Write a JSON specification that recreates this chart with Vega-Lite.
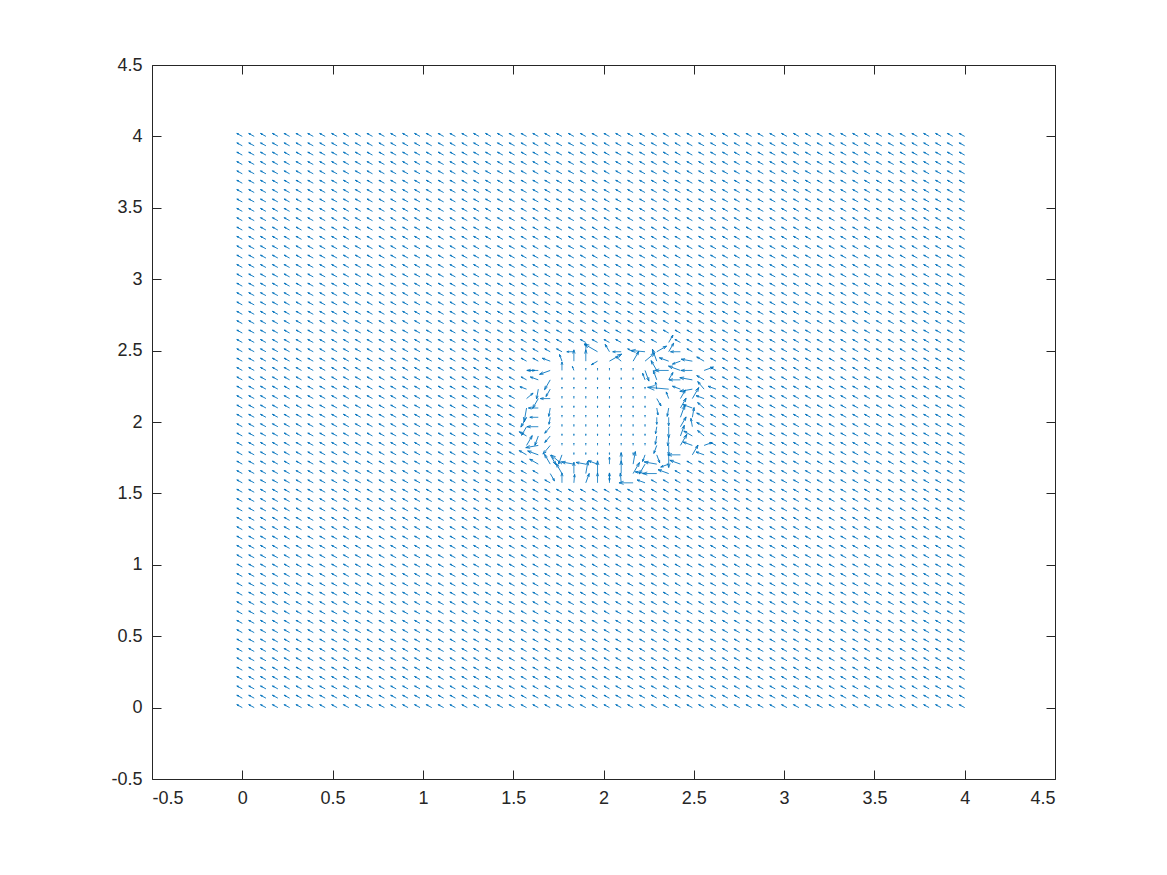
{
"$schema": "https://vega.github.io/schema/vega-lite/v6.json",
"width": 903, "height": 714,
"autosize": {"type": "none"},
"padding": {"left": 152, "top": 65, "right": 112, "bottom": 96},
"background": "white",
"config": {"view": {"stroke": null},
 "axis": {"domainColor": "#262626", "domainWidth": 1, "tickColor": "#262626", "tickWidth": 1, "tickSize": -9, "labelColor": "#262626", "labelFont": "Liberation Sans", "labelFontSize": 18, "labelPadding": 19, "grid": false, "title": null}},
"data": {"values": "x,y,a,l\n0,0\n0.066,0\n0.131,0\n0.197,0\n0.262,0\n0.328,0\n0.393,0\n0.459,0\n0.525,0\n0.59,0\n0.656,0\n0.721,0\n0.787,0\n0.852,0\n0.918,0\n0.984,0\n1.049,0\n1.115,0\n1.18,0\n1.246,0\n1.311,0\n1.377,0\n1.443,0\n1.508,0\n1.574,0\n1.639,0\n1.705,0\n1.77,0\n1.836,0\n1.902,0\n1.967,0\n2.033,0\n2.098,0\n2.164,0\n2.23,0\n2.295,0\n2.361,0\n2.426,0\n2.492,0\n2.557,0\n2.623,0\n2.689,0\n2.754,0\n2.82,0\n2.885,0\n2.951,0\n3.016,0\n3.082,0\n3.148,0\n3.213,0\n3.279,0\n3.344,0\n3.41,0\n3.475,0\n3.541,0\n3.607,0\n3.672,0\n3.738,0\n3.803,0\n3.869,0\n3.934,0\n4,0\n0,0.066\n0.066,0.066\n0.131,0.066\n0.197,0.066\n0.262,0.066\n0.328,0.066\n0.393,0.066\n0.459,0.066\n0.525,0.066\n0.59,0.066\n0.656,0.066\n0.721,0.066\n0.787,0.066\n0.852,0.066\n0.918,0.066\n0.984,0.066\n1.049,0.066\n1.115,0.066\n1.18,0.066\n1.246,0.066\n1.311,0.066\n1.377,0.066\n1.443,0.066\n1.508,0.066\n1.574,0.066\n1.639,0.066\n1.705,0.066\n1.77,0.066\n1.836,0.066\n1.902,0.066\n1.967,0.066\n2.033,0.066\n2.098,0.066\n2.164,0.066\n2.23,0.066\n2.295,0.066\n2.361,0.066\n2.426,0.066\n2.492,0.066\n2.557,0.066\n2.623,0.066\n2.689,0.066\n2.754,0.066\n2.82,0.066\n2.885,0.066\n2.951,0.066\n3.016,0.066\n3.082,0.066\n3.148,0.066\n3.213,0.066\n3.279,0.066\n3.344,0.066\n3.41,0.066\n3.475,0.066\n3.541,0.066\n3.607,0.066\n3.672,0.066\n3.738,0.066\n3.803,0.066\n3.869,0.066\n3.934,0.066\n4,0.066\n0,0.131\n0.066,0.131\n0.131,0.131\n0.197,0.131\n0.262,0.131\n0.328,0.131\n0.393,0.131\n0.459,0.131\n0.525,0.131\n0.59,0.131\n0.656,0.131\n0.721,0.131\n0.787,0.131\n0.852,0.131\n0.918,0.131\n0.984,0.131\n1.049,0.131\n1.115,0.131\n1.18,0.131\n1.246,0.131\n1.311,0.131\n1.377,0.131\n1.443,0.131\n1.508,0.131\n1.574,0.131\n1.639,0.131\n1.705,0.131\n1.77,0.131\n1.836,0.131\n1.902,0.131\n1.967,0.131\n2.033,0.131\n2.098,0.131\n2.164,0.131\n2.23,0.131\n2.295,0.131\n2.361,0.131\n2.426,0.131\n2.492,0.131\n2.557,0.131\n2.623,0.131\n2.689,0.131\n2.754,0.131\n2.82,0.131\n2.885,0.131\n2.951,0.131\n3.016,0.131\n3.082,0.131\n3.148,0.131\n3.213,0.131\n3.279,0.131\n3.344,0.131\n3.41,0.131\n3.475,0.131\n3.541,0.131\n3.607,0.131\n3.672,0.131\n3.738,0.131\n3.803,0.131\n3.869,0.131\n3.934,0.131\n4,0.131\n0,0.197\n0.066,0.197\n0.131,0.197\n0.197,0.197\n0.262,0.197\n0.328,0.197\n0.393,0.197\n0.459,0.197\n0.525,0.197\n0.59,0.197\n0.656,0.197\n0.721,0.197\n0.787,0.197\n0.852,0.197\n0.918,0.197\n0.984,0.197\n1.049,0.197\n1.115,0.197\n1.18,0.197\n1.246,0.197\n1.311,0.197\n1.377,0.197\n1.443,0.197\n1.508,0.197\n1.574,0.197\n1.639,0.197\n1.705,0.197\n1.77,0.197\n1.836,0.197\n1.902,0.197\n1.967,0.197\n2.033,0.197\n2.098,0.197\n2.164,0.197\n2.23,0.197\n2.295,0.197\n2.361,0.197\n2.426,0.197\n2.492,0.197\n2.557,0.197\n2.623,0.197\n2.689,0.197\n2.754,0.197\n2.82,0.197\n2.885,0.197\n2.951,0.197\n3.016,0.197\n3.082,0.197\n3.148,0.197\n3.213,0.197\n3.279,0.197\n3.344,0.197\n3.41,0.197\n3.475,0.197\n3.541,0.197\n3.607,0.197\n3.672,0.197\n3.738,0.197\n3.803,0.197\n3.869,0.197\n3.934,0.197\n4,0.197\n0,0.262\n0.066,0.262\n0.131,0.262\n0.197,0.262\n0.262,0.262\n0.328,0.262\n0.393,0.262\n0.459,0.262\n0.525,0.262\n0.59,0.262\n0.656,0.262\n0.721,0.262\n0.787,0.262\n0.852,0.262\n0.918,0.262\n0.984,0.262\n1.049,0.262\n1.115,0.262\n1.18,0.262\n1.246,0.262\n1.311,0.262\n1.377,0.262\n1.443,0.262\n1.508,0.262\n1.574,0.262\n1.639,0.262\n1.705,0.262\n1.77,0.262\n1.836,0.262\n1.902,0.262\n1.967,0.262\n2.033,0.262\n2.098,0.262\n2.164,0.262\n2.23,0.262\n2.295,0.262\n2.361,0.262\n2.426,0.262\n2.492,0.262\n2.557,0.262\n2.623,0.262\n2.689,0.262\n2.754,0.262\n2.82,0.262\n2.885,0.262\n2.951,0.262\n3.016,0.262\n3.082,0.262\n3.148,0.262\n3.213,0.262\n3.279,0.262\n3.344,0.262\n3.41,0.262\n3.475,0.262\n3.541,0.262\n3.607,0.262\n3.672,0.262\n3.738,0.262\n3.803,0.262\n3.869,0.262\n3.934,0.262\n4,0.262\n0,0.328\n0.066,0.328\n0.131,0.328\n0.197,0.328\n0.262,0.328\n0.328,0.328\n0.393,0.328\n0.459,0.328\n0.525,0.328\n0.59,0.328\n0.656,0.328\n0.721,0.328\n0.787,0.328\n0.852,0.328\n0.918,0.328\n0.984,0.328\n1.049,0.328\n1.115,0.328\n1.18,0.328\n1.246,0.328\n1.311,0.328\n1.377,0.328\n1.443,0.328\n1.508,0.328\n1.574,0.328\n1.639,0.328\n1.705,0.328\n1.77,0.328\n1.836,0.328\n1.902,0.328\n1.967,0.328\n2.033,0.328\n2.098,0.328\n2.164,0.328\n2.23,0.328\n2.295,0.328\n2.361,0.328\n2.426,0.328\n2.492,0.328\n2.557,0.328\n2.623,0.328\n2.689,0.328\n2.754,0.328\n2.82,0.328\n2.885,0.328\n2.951,0.328\n3.016,0.328\n3.082,0.328\n3.148,0.328\n3.213,0.328\n3.279,0.328\n3.344,0.328\n3.41,0.328\n3.475,0.328\n3.541,0.328\n3.607,0.328\n3.672,0.328\n3.738,0.328\n3.803,0.328\n3.869,0.328\n3.934,0.328\n4,0.328\n0,0.393\n0.066,0.393\n0.131,0.393\n0.197,0.393\n0.262,0.393\n0.328,0.393\n0.393,0.393\n0.459,0.393\n0.525,0.393\n0.59,0.393\n0.656,0.393\n0.721,0.393\n0.787,0.393\n0.852,0.393\n0.918,0.393\n0.984,0.393\n1.049,0.393\n1.115,0.393\n1.18,0.393\n1.246,0.393\n1.311,0.393\n1.377,0.393\n1.443,0.393\n1.508,0.393\n1.574,0.393\n1.639,0.393\n1.705,0.393\n1.77,0.393\n1.836,0.393\n1.902,0.393\n1.967,0.393\n2.033,0.393\n2.098,0.393\n2.164,0.393\n2.23,0.393\n2.295,0.393\n2.361,0.393\n2.426,0.393\n2.492,0.393\n2.557,0.393\n2.623,0.393\n2.689,0.393\n2.754,0.393\n2.82,0.393\n2.885,0.393\n2.951,0.393\n3.016,0.393\n3.082,0.393\n3.148,0.393\n3.213,0.393\n3.279,0.393\n3.344,0.393\n3.41,0.393\n3.475,0.393\n3.541,0.393\n3.607,0.393\n3.672,0.393\n3.738,0.393\n3.803,0.393\n3.869,0.393\n3.934,0.393\n4,0.393\n0,0.459\n0.066,0.459\n0.131,0.459\n0.197,0.459\n0.262,0.459\n0.328,0.459\n0.393,0.459\n0.459,0.459\n0.525,0.459\n0.59,0.459\n0.656,0.459\n0.721,0.459\n0.787,0.459\n0.852,0.459\n0.918,0.459\n0.984,0.459\n1.049,0.459\n1.115,0.459\n1.18,0.459\n1.246,0.459\n1.311,0.459\n1.377,0.459\n1.443,0.459\n1.508,0.459\n1.574,0.459\n1.639,0.459\n1.705,0.459\n1.77,0.459\n1.836,0.459\n1.902,0.459\n1.967,0.459\n2.033,0.459\n2.098,0.459\n2.164,0.459\n2.23,0.459\n2.295,0.459\n2.361,0.459\n2.426,0.459\n2.492,0.459\n2.557,0.459\n2.623,0.459\n2.689,0.459\n2.754,0.459\n2.82,0.459\n2.885,0.459\n2.951,0.459\n3.016,0.459\n3.082,0.459\n3.148,0.459\n3.213,0.459\n3.279,0.459\n3.344,0.459\n3.41,0.459\n3.475,0.459\n3.541,0.459\n3.607,0.459\n3.672,0.459\n3.738,0.459\n3.803,0.459\n3.869,0.459\n3.934,0.459\n4,0.459\n0,0.525\n0.066,0.525\n0.131,0.525\n0.197,0.525\n0.262,0.525\n0.328,0.525\n0.393,0.525\n0.459,0.525\n0.525,0.525\n0.59,0.525\n0.656,0.525\n0.721,0.525\n0.787,0.525\n0.852,0.525\n0.918,0.525\n0.984,0.525\n1.049,0.525\n1.115,0.525\n1.18,0.525\n1.246,0.525\n1.311,0.525\n1.377,0.525\n1.443,0.525\n1.508,0.525\n1.574,0.525\n1.639,0.525\n1.705,0.525\n1.77,0.525\n1.836,0.525\n1.902,0.525\n1.967,0.525\n2.033,0.525\n2.098,0.525\n2.164,0.525\n2.23,0.525\n2.295,0.525\n2.361,0.525\n2.426,0.525\n2.492,0.525\n2.557,0.525\n2.623,0.525\n2.689,0.525\n2.754,0.525\n2.82,0.525\n2.885,0.525\n2.951,0.525\n3.016,0.525\n3.082,0.525\n3.148,0.525\n3.213,0.525\n3.279,0.525\n3.344,0.525\n3.41,0.525\n3.475,0.525\n3.541,0.525\n3.607,0.525\n3.672,0.525\n3.738,0.525\n3.803,0.525\n3.869,0.525\n3.934,0.525\n4,0.525\n0,0.59\n0.066,0.59\n0.131,0.59\n0.197,0.59\n0.262,0.59\n0.328,0.59\n0.393,0.59\n0.459,0.59\n0.525,0.59\n0.59,0.59\n0.656,0.59\n0.721,0.59\n0.787,0.59\n0.852,0.59\n0.918,0.59\n0.984,0.59\n1.049,0.59\n1.115,0.59\n1.18,0.59\n1.246,0.59\n1.311,0.59\n1.377,0.59\n1.443,0.59\n1.508,0.59\n1.574,0.59\n1.639,0.59\n1.705,0.59\n1.77,0.59\n1.836,0.59\n1.902,0.59\n1.967,0.59\n2.033,0.59\n2.098,0.59\n2.164,0.59\n2.23,0.59\n2.295,0.59\n2.361,0.59\n2.426,0.59\n2.492,0.59\n2.557,0.59\n2.623,0.59\n2.689,0.59\n2.754,0.59\n2.82,0.59\n2.885,0.59\n2.951,0.59\n3.016,0.59\n3.082,0.59\n3.148,0.59\n3.213,0.59\n3.279,0.59\n3.344,0.59\n3.41,0.59\n3.475,0.59\n3.541,0.59\n3.607,0.59\n3.672,0.59\n3.738,0.59\n3.803,0.59\n3.869,0.59\n3.934,0.59\n4,0.59\n0,0.656\n0.066,0.656\n0.131,0.656\n0.197,0.656\n0.262,0.656\n0.328,0.656\n0.393,0.656\n0.459,0.656\n0.525,0.656\n0.59,0.656\n0.656,0.656\n0.721,0.656\n0.787,0.656\n0.852,0.656\n0.918,0.656\n0.984,0.656\n1.049,0.656\n1.115,0.656\n1.18,0.656\n1.246,0.656\n1.311,0.656\n1.377,0.656\n1.443,0.656\n1.508,0.656\n1.574,0.656\n1.639,0.656\n1.705,0.656\n1.77,0.656\n1.836,0.656\n1.902,0.656\n1.967,0.656\n2.033,0.656\n2.098,0.656\n2.164,0.656\n2.23,0.656\n2.295,0.656\n2.361,0.656\n2.426,0.656\n2.492,0.656\n2.557,0.656\n2.623,0.656\n2.689,0.656\n2.754,0.656\n2.82,0.656\n2.885,0.656\n2.951,0.656\n3.016,0.656\n3.082,0.656\n3.148,0.656\n3.213,0.656\n3.279,0.656\n3.344,0.656\n3.41,0.656\n3.475,0.656\n3.541,0.656\n3.607,0.656\n3.672,0.656\n3.738,0.656\n3.803,0.656\n3.869,0.656\n3.934,0.656\n4,0.656\n0,0.721\n0.066,0.721\n0.131,0.721\n0.197,0.721\n0.262,0.721\n0.328,0.721\n0.393,0.721\n0.459,0.721\n0.525,0.721\n0.59,0.721\n0.656,0.721\n0.721,0.721\n0.787,0.721\n0.852,0.721\n0.918,0.721\n0.984,0.721\n1.049,0.721\n1.115,0.721\n1.18,0.721\n1.246,0.721\n1.311,0.721\n1.377,0.721\n1.443,0.721\n1.508,0.721\n1.574,0.721\n1.639,0.721\n1.705,0.721\n1.77,0.721\n1.836,0.721\n1.902,0.721\n1.967,0.721\n2.033,0.721\n2.098,0.721\n2.164,0.721\n2.23,0.721\n2.295,0.721\n2.361,0.721\n2.426,0.721\n2.492,0.721\n2.557,0.721\n2.623,0.721\n2.689,0.721\n2.754,0.721\n2.82,0.721\n2.885,0.721\n2.951,0.721\n3.016,0.721\n3.082,0.721\n3.148,0.721\n3.213,0.721\n3.279,0.721\n3.344,0.721\n3.41,0.721\n3.475,0.721\n3.541,0.721\n3.607,0.721\n3.672,0.721\n3.738,0.721\n3.803,0.721\n3.869,0.721\n3.934,0.721\n4,0.721\n0,0.787\n0.066,0.787\n0.131,0.787\n0.197,0.787\n0.262,0.787\n0.328,0.787\n0.393,0.787\n0.459,0.787\n0.525,0.787\n0.59,0.787\n0.656,0.787\n0.721,0.787\n0.787,0.787\n0.852,0.787\n0.918,0.787\n0.984,0.787\n1.049,0.787\n1.115,0.787\n1.18,0.787\n1.246,0.787\n1.311,0.787\n1.377,0.787\n1.443,0.787\n1.508,0.787\n1.574,0.787\n1.639,0.787\n1.705,0.787\n1.77,0.787\n1.836,0.787\n1.902,0.787\n1.967,0.787\n2.033,0.787\n2.098,0.787\n2.164,0.787\n2.23,0.787\n2.295,0.787\n2.361,0.787\n2.426,0.787\n2.492,0.787\n2.557,0.787\n2.623,0.787\n2.689,0.787\n2.754,0.787\n2.82,0.787\n2.885,0.787\n2.951,0.787\n3.016,0.787\n3.082,0.787\n3.148,0.787\n3.213,0.787\n3.279,0.787\n3.344,0.787\n3.41,0.787\n3.475,0.787\n3.541,0.787\n3.607,0.787\n3.672,0.787\n3.738,0.787\n3.803,0.787\n3.869,0.787\n3.934,0.787\n4,0.787\n0,0.852\n0.066,0.852\n0.131,0.852\n0.197,0.852\n0.262,0.852\n0.328,0.852\n0.393,0.852\n0.459,0.852\n0.525,0.852\n0.59,0.852\n0.656,0.852\n0.721,0.852\n0.787,0.852\n0.852,0.852\n0.918,0.852\n0.984,0.852\n1.049,0.852\n1.115,0.852\n1.18,0.852\n1.246,0.852\n1.311,0.852\n1.377,0.852\n1.443,0.852\n1.508,0.852\n1.574,0.852\n1.639,0.852\n1.705,0.852\n1.77,0.852\n1.836,0.852\n1.902,0.852\n1.967,0.852\n2.033,0.852\n2.098,0.852\n2.164,0.852\n2.23,0.852\n2.295,0.852\n2.361,0.852\n2.426,0.852\n2.492,0.852\n2.557,0.852\n2.623,0.852\n2.689,0.852\n2.754,0.852\n2.82,0.852\n2.885,0.852\n2.951,0.852\n3.016,0.852\n3.082,0.852\n3.148,0.852\n3.213,0.852\n3.279,0.852\n3.344,0.852\n3.41,0.852\n3.475,0.852\n3.541,0.852\n3.607,0.852\n3.672,0.852\n3.738,0.852\n3.803,0.852\n3.869,0.852\n3.934,0.852\n4,0.852\n0,0.918\n0.066,0.918\n0.131,0.918\n0.197,0.918\n0.262,0.918\n0.328,0.918\n0.393,0.918\n0.459,0.918\n0.525,0.918\n0.59,0.918\n0.656,0.918\n0.721,0.918\n0.787,0.918\n0.852,0.918\n0.918,0.918\n0.984,0.918\n1.049,0.918\n1.115,0.918\n1.18,0.918\n1.246,0.918\n1.311,0.918\n1.377,0.918\n1.443,0.918\n1.508,0.918\n1.574,0.918\n1.639,0.918\n1.705,0.918\n1.77,0.918\n1.836,0.918\n1.902,0.918\n1.967,0.918\n2.033,0.918\n2.098,0.918\n2.164,0.918\n2.23,0.918\n2.295,0.918\n2.361,0.918\n2.426,0.918\n2.492,0.918\n2.557,0.918\n2.623,0.918\n2.689,0.918\n2.754,0.918\n2.82,0.918\n2.885,0.918\n2.951,0.918\n3.016,0.918\n3.082,0.918\n3.148,0.918\n3.213,0.918\n3.279,0.918\n3.344,0.918\n3.41,0.918\n3.475,0.918\n3.541,0.918\n3.607,0.918\n3.672,0.918\n3.738,0.918\n3.803,0.918\n3.869,0.918\n3.934,0.918\n4,0.918\n0,0.984\n0.066,0.984\n0.131,0.984\n0.197,0.984\n0.262,0.984\n0.328,0.984\n0.393,0.984\n0.459,0.984\n0.525,0.984\n0.59,0.984\n0.656,0.984\n0.721,0.984\n0.787,0.984\n0.852,0.984\n0.918,0.984\n0.984,0.984\n1.049,0.984\n1.115,0.984\n1.18,0.984\n1.246,0.984\n1.311,0.984\n1.377,0.984\n1.443,0.984\n1.508,0.984\n1.574,0.984\n1.639,0.984\n1.705,0.984\n1.77,0.984\n1.836,0.984\n1.902,0.984\n1.967,0.984\n2.033,0.984\n2.098,0.984\n2.164,0.984\n2.23,0.984\n2.295,0.984\n2.361,0.984\n2.426,0.984\n2.492,0.984\n2.557,0.984\n2.623,0.984\n2.689,0.984\n2.754,0.984\n2.82,0.984\n2.885,0.984\n2.951,0.984\n3.016,0.984\n3.082,0.984\n3.148,0.984\n3.213,0.984\n3.279,0.984\n3.344,0.984\n3.41,0.984\n3.475,0.984\n3.541,0.984\n3.607,0.984\n3.672,0.984\n3.738,0.984\n3.803,0.984\n3.869,0.984\n3.934,0.984\n4,0.984\n0,1.049\n0.066,1.049\n0.131,1.049\n0.197,1.049\n0.262,1.049\n0.328,1.049\n0.393,1.049\n0.459,1.049\n0.525,1.049\n0.59,1.049\n0.656,1.049\n0.721,1.049\n0.787,1.049\n0.852,1.049\n0.918,1.049\n0.984,1.049\n1.049,1.049\n1.115,1.049\n1.18,1.049\n1.246,1.049\n1.311,1.049\n1.377,1.049\n1.443,1.049\n1.508,1.049\n1.574,1.049\n1.639,1.049\n1.705,1.049\n1.77,1.049\n1.836,1.049\n1.902,1.049\n1.967,1.049\n2.033,1.049\n2.098,1.049\n2.164,1.049\n2.23,1.049\n2.295,1.049\n2.361,1.049\n2.426,1.049\n2.492,1.049\n2.557,1.049\n2.623,1.049\n2.689,1.049\n2.754,1.049\n2.82,1.049\n2.885,1.049\n2.951,1.049\n3.016,1.049\n3.082,1.049\n3.148,1.049\n3.213,1.049\n3.279,1.049\n3.344,1.049\n3.41,1.049\n3.475,1.049\n3.541,1.049\n3.607,1.049\n3.672,1.049\n3.738,1.049\n3.803,1.049\n3.869,1.049\n3.934,1.049\n4,1.049\n0,1.115\n0.066,1.115\n0.131,1.115\n0.197,1.115\n0.262,1.115\n0.328,1.115\n0.393,1.115\n0.459,1.115\n0.525,1.115\n0.59,1.115\n0.656,1.115\n0.721,1.115\n0.787,1.115\n0.852,1.115\n0.918,1.115\n0.984,1.115\n1.049,1.115\n1.115,1.115\n1.18,1.115\n1.246,1.115\n1.311,1.115\n1.377,1.115\n1.443,1.115\n1.508,1.115\n1.574,1.115\n1.639,1.115\n1.705,1.115\n1.77,1.115\n1.836,1.115\n1.902,1.115\n1.967,1.115\n2.033,1.115\n2.098,1.115\n2.164,1.115\n2.23,1.115\n2.295,1.115\n2.361,1.115\n2.426,1.115\n2.492,1.115\n2.557,1.115\n2.623,1.115\n2.689,1.115\n2.754,1.115\n2.82,1.115\n2.885,1.115\n2.951,1.115\n3.016,1.115\n3.082,1.115\n3.148,1.115\n3.213,1.115\n3.279,1.115\n3.344,1.115\n3.41,1.115\n3.475,1.115\n3.541,1.115\n3.607,1.115\n3.672,1.115\n3.738,1.115\n3.803,1.115\n3.869,1.115\n3.934,1.115\n4,1.115\n0,1.18\n0.066,1.18\n0.131,1.18\n0.197,1.18\n0.262,1.18\n0.328,1.18\n0.393,1.18\n0.459,1.18\n0.525,1.18\n0.59,1.18\n0.656,1.18\n0.721,1.18\n0.787,1.18\n0.852,1.18\n0.918,1.18\n0.984,1.18\n1.049,1.18\n1.115,1.18\n1.18,1.18\n1.246,1.18\n1.311,1.18\n1.377,1.18\n1.443,1.18\n1.508,1.18\n1.574,1.18\n1.639,1.18\n1.705,1.18\n1.77,1.18\n1.836,1.18\n1.902,1.18\n1.967,1.18\n2.033,1.18\n2.098,1.18\n2.164,1.18\n2.23,1.18\n2.295,1.18\n2.361,1.18\n2.426,1.18\n2.492,1.18\n2.557,1.18\n2.623,1.18\n2.689,1.18\n2.754,1.18\n2.82,1.18\n2.885,1.18\n2.951,1.18\n3.016,1.18\n3.082,1.18\n3.148,1.18\n3.213,1.18\n3.279,1.18\n3.344,1.18\n3.41,1.18\n3.475,1.18\n3.541,1.18\n3.607,1.18\n3.672,1.18\n3.738,1.18\n3.803,1.18\n3.869,1.18\n3.934,1.18\n4,1.18\n0,1.246\n0.066,1.246\n0.131,1.246\n0.197,1.246\n0.262,1.246\n0.328,1.246\n0.393,1.246\n0.459,1.246\n0.525,1.246\n0.59,1.246\n0.656,1.246\n0.721,1.246\n0.787,1.246\n0.852,1.246\n0.918,1.246\n0.984,1.246\n1.049,1.246\n1.115,1.246\n1.18,1.246\n1.246,1.246\n1.311,1.246\n1.377,1.246\n1.443,1.246\n1.508,1.246\n1.574,1.246\n1.639,1.246\n1.705,1.246\n1.77,1.246\n1.836,1.246\n1.902,1.246\n1.967,1.246\n2.033,1.246\n2.098,1.246\n2.164,1.246\n2.23,1.246\n2.295,1.246\n2.361,1.246\n2.426,1.246\n2.492,1.246\n2.557,1.246\n2.623,1.246\n2.689,1.246\n2.754,1.246\n2.82,1.246\n2.885,1.246\n2.951,1.246\n3.016,1.246\n3.082,1.246\n3.148,1.246\n3.213,1.246\n3.279,1.246\n3.344,1.246\n3.41,1.246\n3.475,1.246\n3.541,1.246\n3.607,1.246\n3.672,1.246\n3.738,1.246\n3.803,1.246\n3.869,1.246\n3.934,1.246\n4,1.246\n0,1.311\n0.066,1.311\n0.131,1.311\n0.197,1.311\n0.262,1.311\n0.328,1.311\n0.393,1.311\n0.459,1.311\n0.525,1.311\n0.59,1.311\n0.656,1.311\n0.721,1.311\n0.787,1.311\n0.852,1.311\n0.918,1.311\n0.984,1.311\n1.049,1.311\n1.115,1.311\n1.18,1.311\n1.246,1.311\n1.311,1.311\n1.377,1.311\n1.443,1.311\n1.508,1.311\n1.574,1.311\n1.639,1.311\n1.705,1.311\n1.77,1.311\n1.836,1.311\n1.902,1.311\n1.967,1.311\n2.033,1.311\n2.098,1.311\n2.164,1.311\n2.23,1.311\n2.295,1.311\n2.361,1.311\n2.426,1.311\n2.492,1.311\n2.557,1.311\n2.623,1.311\n2.689,1.311\n2.754,1.311\n2.82,1.311\n2.885,1.311\n2.951,1.311\n3.016,1.311\n3.082,1.311\n3.148,1.311\n3.213,1.311\n3.279,1.311\n3.344,1.311\n3.41,1.311\n3.475,1.311\n3.541,1.311\n3.607,1.311\n3.672,1.311\n3.738,1.311\n3.803,1.311\n3.869,1.311\n3.934,1.311\n4,1.311\n0,1.377\n0.066,1.377\n0.131,1.377\n0.197,1.377\n0.262,1.377\n0.328,1.377\n0.393,1.377\n0.459,1.377\n0.525,1.377\n0.59,1.377\n0.656,1.377\n0.721,1.377\n0.787,1.377\n0.852,1.377\n0.918,1.377\n0.984,1.377\n1.049,1.377\n1.115,1.377\n1.18,1.377\n1.246,1.377\n1.311,1.377\n1.377,1.377\n1.443,1.377\n1.508,1.377\n1.574,1.377\n1.639,1.377\n1.705,1.377\n1.77,1.377\n1.836,1.377\n1.902,1.377\n1.967,1.377\n2.033,1.377\n2.098,1.377\n2.164,1.377\n2.23,1.377\n2.295,1.377\n2.361,1.377\n2.426,1.377\n2.492,1.377\n2.557,1.377\n2.623,1.377\n2.689,1.377\n2.754,1.377\n2.82,1.377\n2.885,1.377\n2.951,1.377\n3.016,1.377\n3.082,1.377\n3.148,1.377\n3.213,1.377\n3.279,1.377\n3.344,1.377\n3.41,1.377\n3.475,1.377\n3.541,1.377\n3.607,1.377\n3.672,1.377\n3.738,1.377\n3.803,1.377\n3.869,1.377\n3.934,1.377\n4,1.377\n0,1.443\n0.066,1.443\n0.131,1.443\n0.197,1.443\n0.262,1.443\n0.328,1.443\n0.393,1.443\n0.459,1.443\n0.525,1.443\n0.59,1.443\n0.656,1.443\n0.721,1.443\n0.787,1.443\n0.852,1.443\n0.918,1.443\n0.984,1.443\n1.049,1.443\n1.115,1.443\n1.18,1.443\n1.246,1.443\n1.311,1.443\n1.377,1.443\n1.443,1.443\n1.508,1.443\n1.574,1.443\n1.639,1.443\n1.705,1.443\n1.77,1.443\n1.836,1.443\n1.902,1.443\n1.967,1.443\n2.033,1.443\n2.098,1.443\n2.164,1.443\n2.23,1.443\n2.295,1.443\n2.361,1.443\n2.426,1.443\n2.492,1.443\n2.557,1.443\n2.623,1.443\n2.689,1.443\n2.754,1.443\n2.82,1.443\n2.885,1.443\n2.951,1.443\n3.016,1.443\n3.082,1.443\n3.148,1.443\n3.213,1.443\n3.279,1.443\n3.344,1.443\n3.41,1.443\n3.475,1.443\n3.541,1.443\n3.607,1.443\n3.672,1.443\n3.738,1.443\n3.803,1.443\n3.869,1.443\n3.934,1.443\n4,1.443\n0,1.508\n0.066,1.508\n0.131,1.508\n0.197,1.508\n0.262,1.508\n0.328,1.508\n0.393,1.508\n0.459,1.508\n0.525,1.508\n0.59,1.508\n0.656,1.508\n0.721,1.508\n0.787,1.508\n0.852,1.508\n0.918,1.508\n0.984,1.508\n1.049,1.508\n1.115,1.508\n1.18,1.508\n1.246,1.508\n1.311,1.508\n1.377,1.508\n1.443,1.508\n1.508,1.508\n1.574,1.508\n1.639,1.508\n1.705,1.508\n1.77,1.508\n1.836,1.508\n1.902,1.508\n1.967,1.508\n2.033,1.508\n2.098,1.508\n2.164,1.508\n2.23,1.508\n2.295,1.508\n2.361,1.508\n2.426,1.508\n2.492,1.508\n2.557,1.508\n2.623,1.508\n2.689,1.508\n2.754,1.508\n2.82,1.508\n2.885,1.508\n2.951,1.508\n3.016,1.508\n3.082,1.508\n3.148,1.508\n3.213,1.508\n3.279,1.508\n3.344,1.508\n3.41,1.508\n3.475,1.508\n3.541,1.508\n3.607,1.508\n3.672,1.508\n3.738,1.508\n3.803,1.508\n3.869,1.508\n3.934,1.508\n4,1.508\n0,1.574\n0.066,1.574\n0.131,1.574\n0.197,1.574\n0.262,1.574\n0.328,1.574\n0.393,1.574\n0.459,1.574\n0.525,1.574\n0.59,1.574\n0.656,1.574\n0.721,1.574\n0.787,1.574\n0.852,1.574\n0.918,1.574\n0.984,1.574\n1.049,1.574\n1.115,1.574\n1.18,1.574\n1.246,1.574\n1.311,1.574\n1.377,1.574\n1.443,1.574\n1.508,1.574\n1.574,1.574\n1.639,1.574\n1.705,1.574\n1.77,1.574,270,7\n1.836,1.574,275,6\n1.902,1.574,290,7\n1.967,1.574,270,7\n2.033,1.574,270,7\n2.098,1.574,265,7\n2.164,1.574,180,10\n2.23,1.574,200,6\n2.295,1.574\n2.361,1.574\n2.426,1.574\n2.492,1.574\n2.557,1.574\n2.623,1.574\n2.689,1.574\n2.754,1.574\n2.82,1.574\n2.885,1.574\n2.951,1.574\n3.016,1.574\n3.082,1.574\n3.148,1.574\n3.213,1.574\n3.279,1.574\n3.344,1.574\n3.41,1.574\n3.475,1.574\n3.541,1.574\n3.607,1.574\n3.672,1.574\n3.738,1.574\n3.803,1.574\n3.869,1.574\n3.934,1.574\n4,1.574\n0,1.639\n0.066,1.639\n0.131,1.639\n0.197,1.639\n0.262,1.639\n0.328,1.639\n0.393,1.639\n0.459,1.639\n0.525,1.639\n0.59,1.639\n0.656,1.639\n0.721,1.639\n0.787,1.639\n0.852,1.639\n0.918,1.639\n0.984,1.639\n1.049,1.639\n1.115,1.639\n1.18,1.639\n1.246,1.639\n1.311,1.639\n1.377,1.639\n1.443,1.639\n1.508,1.639\n1.574,1.639\n1.639,1.639\n1.705,1.639,60,6\n1.77,1.639,240,8\n1.836,1.639,270,8\n1.902,1.639,280,9\n1.967,1.639,270,9\n2.033,1.639,90,5\n2.098,1.639,270,9\n2.164,1.639,300,9\n2.23,1.639,190,7\n2.295,1.639,180,10\n2.361,1.639,200,8\n2.426,1.639\n2.492,1.639\n2.557,1.639\n2.623,1.639\n2.689,1.639\n2.754,1.639\n2.82,1.639\n2.885,1.639\n2.951,1.639\n3.016,1.639\n3.082,1.639\n3.148,1.639\n3.213,1.639\n3.279,1.639\n3.344,1.639\n3.41,1.639\n3.475,1.639\n3.541,1.639\n3.607,1.639\n3.672,1.639\n3.738,1.639\n3.803,1.639\n3.869,1.639\n3.934,1.639\n4,1.639\n0,1.705\n0.066,1.705\n0.131,1.705\n0.197,1.705\n0.262,1.705\n0.328,1.705\n0.393,1.705\n0.459,1.705\n0.525,1.705\n0.59,1.705\n0.656,1.705\n0.721,1.705\n0.787,1.705\n0.852,1.705\n0.918,1.705\n0.984,1.705\n1.049,1.705\n1.115,1.705\n1.18,1.705\n1.246,1.705\n1.311,1.705\n1.377,1.705\n1.443,1.705\n1.508,1.705\n1.574,1.705\n1.639,1.705,210,7\n1.705,1.705,240,8\n1.77,1.705,220,10\n1.836,1.705,190,9\n1.902,1.705,190,7\n1.967,1.705,200,7\n2.033,1.705,270,5\n2.098,1.705,270,8\n2.164,1.705,280,9\n2.23,1.705,120,8\n2.295,1.705,190,9\n2.361,1.705,160,6\n2.426,1.705,200,8\n2.492,1.705\n2.557,1.705\n2.623,1.705\n2.689,1.705\n2.754,1.705\n2.82,1.705\n2.885,1.705\n2.951,1.705\n3.016,1.705\n3.082,1.705\n3.148,1.705\n3.213,1.705\n3.279,1.705\n3.344,1.705\n3.41,1.705\n3.475,1.705\n3.541,1.705\n3.607,1.705\n3.672,1.705\n3.738,1.705\n3.803,1.705\n3.869,1.705\n3.934,1.705\n4,1.705\n0,1.77\n0.066,1.77\n0.131,1.77\n0.197,1.77\n0.262,1.77\n0.328,1.77\n0.393,1.77\n0.459,1.77\n0.525,1.77\n0.59,1.77\n0.656,1.77\n0.721,1.77\n0.787,1.77\n0.852,1.77\n0.918,1.77\n0.984,1.77\n1.049,1.77\n1.115,1.77\n1.18,1.77\n1.246,1.77\n1.311,1.77\n1.377,1.77\n1.443,1.77\n1.508,1.77\n1.574,1.77,210,6\n1.639,1.77,200,8\n1.705,1.77,60,8\n1.77,1.77,110,7\n1.836,1.77,270,1.5\n1.902,1.77,270,1.5\n1.967,1.77,270,1.5\n2.033,1.77,270,1.5\n2.098,1.77,270,1.5\n2.164,1.77,270,1.5\n2.23,1.77,110,5\n2.295,1.77,70,6\n2.361,1.77,90,9\n2.426,1.77,180,9\n2.492,1.77,300,8\n2.557,1.77,200,6\n2.623,1.77\n2.689,1.77\n2.754,1.77\n2.82,1.77\n2.885,1.77\n2.951,1.77\n3.016,1.77\n3.082,1.77\n3.148,1.77\n3.213,1.77\n3.279,1.77\n3.344,1.77\n3.41,1.77\n3.475,1.77\n3.541,1.77\n3.607,1.77\n3.672,1.77\n3.738,1.77\n3.803,1.77\n3.869,1.77\n3.934,1.77\n4,1.77\n0,1.836\n0.066,1.836\n0.131,1.836\n0.197,1.836\n0.262,1.836\n0.328,1.836\n0.393,1.836\n0.459,1.836\n0.525,1.836\n0.59,1.836\n0.656,1.836\n0.721,1.836\n0.787,1.836\n0.852,1.836\n0.918,1.836\n0.984,1.836\n1.049,1.836\n1.115,1.836\n1.18,1.836\n1.246,1.836\n1.311,1.836\n1.377,1.836\n1.443,1.836\n1.508,1.836\n1.574,1.836,300,8\n1.639,1.836,170,9\n1.705,1.836,130,8\n1.77,1.836,270,1.5\n1.836,1.836,270,1.5\n1.902,1.836,270,1.5\n1.967,1.836,270,1.5\n2.033,1.836,270,1.5\n2.098,1.836,270,1.5\n2.164,1.836,270,1.5\n2.23,1.836,270,1.5\n2.295,1.836,110,6\n2.361,1.836,90,7\n2.426,1.836,300,9\n2.492,1.836,200,7\n2.557,1.836,340,6\n2.623,1.836\n2.689,1.836\n2.754,1.836\n2.82,1.836\n2.885,1.836\n2.951,1.836\n3.016,1.836\n3.082,1.836\n3.148,1.836\n3.213,1.836\n3.279,1.836\n3.344,1.836\n3.41,1.836\n3.475,1.836\n3.541,1.836\n3.607,1.836\n3.672,1.836\n3.738,1.836\n3.803,1.836\n3.869,1.836\n3.934,1.836\n4,1.836\n0,1.902\n0.066,1.902\n0.131,1.902\n0.197,1.902\n0.262,1.902\n0.328,1.902\n0.393,1.902\n0.459,1.902\n0.525,1.902\n0.59,1.902\n0.656,1.902\n0.721,1.902\n0.787,1.902\n0.852,1.902\n0.918,1.902\n0.984,1.902\n1.049,1.902\n1.115,1.902\n1.18,1.902\n1.246,1.902\n1.311,1.902\n1.377,1.902\n1.443,1.902\n1.508,1.902\n1.574,1.902,210,6\n1.639,1.902,110,7\n1.705,1.902,130,6\n1.77,1.902,270,1.5\n1.836,1.902,270,1.5\n1.902,1.902,270,1.5\n1.967,1.902,270,1.5\n2.033,1.902,270,1.5\n2.098,1.902,270,1.5\n2.164,1.902,270,1.5\n2.23,1.902,270,1.5\n2.295,1.902,100,6\n2.361,1.902,95,7\n2.426,1.902,290,8\n2.492,1.902,210,7\n2.557,1.902,220,6\n2.623,1.902\n2.689,1.902\n2.754,1.902\n2.82,1.902\n2.885,1.902\n2.951,1.902\n3.016,1.902\n3.082,1.902\n3.148,1.902\n3.213,1.902\n3.279,1.902\n3.344,1.902\n3.41,1.902\n3.475,1.902\n3.541,1.902\n3.607,1.902\n3.672,1.902\n3.738,1.902\n3.803,1.902\n3.869,1.902\n3.934,1.902\n4,1.902\n0,1.967\n0.066,1.967\n0.131,1.967\n0.197,1.967\n0.262,1.967\n0.328,1.967\n0.393,1.967\n0.459,1.967\n0.525,1.967\n0.59,1.967\n0.656,1.967\n0.721,1.967\n0.787,1.967\n0.852,1.967\n0.918,1.967\n0.984,1.967\n1.049,1.967\n1.115,1.967\n1.18,1.967\n1.246,1.967\n1.311,1.967\n1.377,1.967\n1.443,1.967\n1.508,1.967\n1.574,1.967,120,7\n1.639,1.967,180,8\n1.705,1.967,130,6\n1.77,1.967,270,1.5\n1.836,1.967,270,1.5\n1.902,1.967,270,1.5\n1.967,1.967,270,1.5\n2.033,1.967,270,1.5\n2.098,1.967,270,1.5\n2.164,1.967,270,1.5\n2.23,1.967,270,1.5\n2.295,1.967,100,5\n2.361,1.967,90,8\n2.426,1.967,300,8\n2.492,1.967,260,6\n2.557,1.967,210,6\n2.623,1.967\n2.689,1.967\n2.754,1.967\n2.82,1.967\n2.885,1.967\n2.951,1.967\n3.016,1.967\n3.082,1.967\n3.148,1.967\n3.213,1.967\n3.279,1.967\n3.344,1.967\n3.41,1.967\n3.475,1.967\n3.541,1.967\n3.607,1.967\n3.672,1.967\n3.738,1.967\n3.803,1.967\n3.869,1.967\n3.934,1.967\n4,1.967\n0,2.033\n0.066,2.033\n0.131,2.033\n0.197,2.033\n0.262,2.033\n0.328,2.033\n0.393,2.033\n0.459,2.033\n0.525,2.033\n0.59,2.033\n0.656,2.033\n0.721,2.033\n0.787,2.033\n0.852,2.033\n0.918,2.033\n0.984,2.033\n1.049,2.033\n1.115,2.033\n1.18,2.033\n1.246,2.033\n1.311,2.033\n1.377,2.033\n1.443,2.033\n1.508,2.033\n1.574,2.033,120,8\n1.639,2.033,180,6\n1.705,2.033,100,5\n1.77,2.033,270,1.5\n1.836,2.033,270,1.5\n1.902,2.033,270,1.5\n1.967,2.033,270,1.5\n2.033,2.033,270,1.5\n2.098,2.033,270,1.5\n2.164,2.033,270,1.5\n2.23,2.033,270,1.5\n2.295,2.033,90,5\n2.361,2.033,90,6\n2.426,2.033,290,9\n2.492,2.033,280,7\n2.557,2.033,210,6\n2.623,2.033\n2.689,2.033\n2.754,2.033\n2.82,2.033\n2.885,2.033\n2.951,2.033\n3.016,2.033\n3.082,2.033\n3.148,2.033\n3.213,2.033\n3.279,2.033\n3.344,2.033\n3.41,2.033\n3.475,2.033\n3.541,2.033\n3.607,2.033\n3.672,2.033\n3.738,2.033\n3.803,2.033\n3.869,2.033\n3.934,2.033\n4,2.033\n0,2.098\n0.066,2.098\n0.131,2.098\n0.197,2.098\n0.262,2.098\n0.328,2.098\n0.393,2.098\n0.459,2.098\n0.525,2.098\n0.59,2.098\n0.656,2.098\n0.721,2.098\n0.787,2.098\n0.852,2.098\n0.918,2.098\n0.984,2.098\n1.049,2.098\n1.115,2.098\n1.18,2.098\n1.246,2.098\n1.311,2.098\n1.377,2.098\n1.443,2.098\n1.508,2.098\n1.574,2.098,100,10\n1.639,2.098,180,7\n1.705,2.098,100,6\n1.77,2.098,270,1.5\n1.836,2.098,270,1.5\n1.902,2.098,270,1.5\n1.967,2.098,270,1.5\n2.033,2.098,270,1.5\n2.098,2.098,270,1.5\n2.164,2.098,270,1.5\n2.23,2.098,270,1.5\n2.295,2.098,80,5\n2.361,2.098,100,6\n2.426,2.098,300,8\n2.492,2.098,200,7\n2.557,2.098,220,6\n2.623,2.098\n2.689,2.098\n2.754,2.098\n2.82,2.098\n2.885,2.098\n2.951,2.098\n3.016,2.098\n3.082,2.098\n3.148,2.098\n3.213,2.098\n3.279,2.098\n3.344,2.098\n3.41,2.098\n3.475,2.098\n3.541,2.098\n3.607,2.098\n3.672,2.098\n3.738,2.098\n3.803,2.098\n3.869,2.098\n3.934,2.098\n4,2.098\n0,2.164\n0.066,2.164\n0.131,2.164\n0.197,2.164\n0.262,2.164\n0.328,2.164\n0.393,2.164\n0.459,2.164\n0.525,2.164\n0.59,2.164\n0.656,2.164\n0.721,2.164\n0.787,2.164\n0.852,2.164\n0.918,2.164\n0.984,2.164\n1.049,2.164\n1.115,2.164\n1.18,2.164\n1.246,2.164\n1.311,2.164\n1.377,2.164\n1.443,2.164\n1.508,2.164\n1.574,2.164,320,6\n1.639,2.164,120,8\n1.705,2.164,180,7\n1.77,2.164,270,1.5\n1.836,2.164,270,1.5\n1.902,2.164,270,1.5\n1.967,2.164,270,1.5\n2.033,2.164,270,1.5\n2.098,2.164,270,1.5\n2.164,2.164,270,1.5\n2.23,2.164,270,1.5\n2.295,2.164,60,6\n2.361,2.164,250,5\n2.426,2.164,300,7\n2.492,2.164,300,9\n2.557,2.164,200,6\n2.623,2.164\n2.689,2.164\n2.754,2.164\n2.82,2.164\n2.885,2.164\n2.951,2.164\n3.016,2.164\n3.082,2.164\n3.148,2.164\n3.213,2.164\n3.279,2.164\n3.344,2.164\n3.41,2.164\n3.475,2.164\n3.541,2.164\n3.607,2.164\n3.672,2.164\n3.738,2.164\n3.803,2.164\n3.869,2.164\n3.934,2.164\n4,2.164\n0,2.23\n0.066,2.23\n0.131,2.23\n0.197,2.23\n0.262,2.23\n0.328,2.23\n0.393,2.23\n0.459,2.23\n0.525,2.23\n0.59,2.23\n0.656,2.23\n0.721,2.23\n0.787,2.23\n0.852,2.23\n0.918,2.23\n0.984,2.23\n1.049,2.23\n1.115,2.23\n1.18,2.23\n1.246,2.23\n1.311,2.23\n1.377,2.23\n1.443,2.23\n1.508,2.23\n1.574,2.23,200,5\n1.639,2.23,100,7\n1.705,2.23,120,6\n1.77,2.23,270,1.5\n1.836,2.23,270,1.5\n1.902,2.23,270,1.5\n1.967,2.23,270,1.5\n2.033,2.23,270,1.5\n2.098,2.23,270,1.5\n2.164,2.23,270,1.5\n2.23,2.23,270,1.5\n2.295,2.23,260,5\n2.361,2.23,185,15\n2.426,2.23,200,6\n2.492,2.23,170,9\n2.557,2.23,230,7\n2.623,2.23,200,6\n2.689,2.23\n2.754,2.23\n2.82,2.23\n2.885,2.23\n2.951,2.23\n3.016,2.23\n3.082,2.23\n3.148,2.23\n3.213,2.23\n3.279,2.23\n3.344,2.23\n3.41,2.23\n3.475,2.23\n3.541,2.23\n3.607,2.23\n3.672,2.23\n3.738,2.23\n3.803,2.23\n3.869,2.23\n3.934,2.23\n4,2.23\n0,2.295\n0.066,2.295\n0.131,2.295\n0.197,2.295\n0.262,2.295\n0.328,2.295\n0.393,2.295\n0.459,2.295\n0.525,2.295\n0.59,2.295\n0.656,2.295\n0.721,2.295\n0.787,2.295\n0.852,2.295\n0.918,2.295\n0.984,2.295\n1.049,2.295\n1.115,2.295\n1.18,2.295\n1.246,2.295\n1.311,2.295\n1.377,2.295\n1.443,2.295\n1.508,2.295\n1.574,2.295\n1.639,2.295,200,6\n1.705,2.295,120,8\n1.77,2.295,270,1.5\n1.836,2.295,270,1.5\n1.902,2.295,270,1.5\n1.967,2.295,270,1.5\n2.033,2.295,270,1.5\n2.098,2.295,270,1.5\n2.164,2.295,270,1.5\n2.23,2.295,250,5\n2.295,2.295,250,7\n2.361,2.295,300,6\n2.426,2.295,180,8\n2.492,2.295,190,9\n2.557,2.295,210,6\n2.623,2.295\n2.689,2.295\n2.754,2.295\n2.82,2.295\n2.885,2.295\n2.951,2.295\n3.016,2.295\n3.082,2.295\n3.148,2.295\n3.213,2.295\n3.279,2.295\n3.344,2.295\n3.41,2.295\n3.475,2.295\n3.541,2.295\n3.607,2.295\n3.672,2.295\n3.738,2.295\n3.803,2.295\n3.869,2.295\n3.934,2.295\n4,2.295\n0,2.361\n0.066,2.361\n0.131,2.361\n0.197,2.361\n0.262,2.361\n0.328,2.361\n0.393,2.361\n0.459,2.361\n0.525,2.361\n0.59,2.361\n0.656,2.361\n0.721,2.361\n0.787,2.361\n0.852,2.361\n0.918,2.361\n0.984,2.361\n1.049,2.361\n1.115,2.361\n1.18,2.361\n1.246,2.361\n1.311,2.361\n1.377,2.361\n1.443,2.361\n1.508,2.361\n1.574,2.361,0,6\n1.639,2.361,180,8\n1.705,2.361,160,8\n1.77,2.361,270,6\n1.836,2.361,250,3\n1.902,2.361,270,1.5\n1.967,2.361,270,1.5\n2.033,2.361,270,1.5\n2.098,2.361,270,1.5\n2.164,2.361,270,1.5\n2.23,2.361,70,8\n2.295,2.361,240,8\n2.361,2.361,180,10\n2.426,2.361,200,9\n2.492,2.361,180,8\n2.557,2.361,340,7\n2.623,2.361\n2.689,2.361\n2.754,2.361\n2.82,2.361\n2.885,2.361\n2.951,2.361\n3.016,2.361\n3.082,2.361\n3.148,2.361\n3.213,2.361\n3.279,2.361\n3.344,2.361\n3.41,2.361\n3.475,2.361\n3.541,2.361\n3.607,2.361\n3.672,2.361\n3.738,2.361\n3.803,2.361\n3.869,2.361\n3.934,2.361\n4,2.361\n0,2.426\n0.066,2.426\n0.131,2.426\n0.197,2.426\n0.262,2.426\n0.328,2.426\n0.393,2.426\n0.459,2.426\n0.525,2.426\n0.59,2.426\n0.656,2.426\n0.721,2.426\n0.787,2.426\n0.852,2.426\n0.918,2.426\n0.984,2.426\n1.049,2.426\n1.115,2.426\n1.18,2.426\n1.246,2.426\n1.311,2.426\n1.377,2.426\n1.443,2.426\n1.508,2.426\n1.574,2.426\n1.639,2.426\n1.705,2.426,200,6\n1.77,2.426,250,5\n1.836,2.426,270,8\n1.902,2.426,270,8\n1.967,2.426,150,5\n2.033,2.426,330,10\n2.098,2.426,220,5\n2.164,2.426,300,8\n2.23,2.426,320,9\n2.295,2.426,250,9\n2.361,2.426,200,7\n2.426,2.426,160,6\n2.492,2.426,190,8\n2.557,2.426,210,6\n2.623,2.426\n2.689,2.426\n2.754,2.426\n2.82,2.426\n2.885,2.426\n2.951,2.426\n3.016,2.426\n3.082,2.426\n3.148,2.426\n3.213,2.426\n3.279,2.426\n3.344,2.426\n3.41,2.426\n3.475,2.426\n3.541,2.426\n3.607,2.426\n3.672,2.426\n3.738,2.426\n3.803,2.426\n3.869,2.426\n3.934,2.426\n4,2.426\n0,2.492\n0.066,2.492\n0.131,2.492\n0.197,2.492\n0.262,2.492\n0.328,2.492\n0.393,2.492\n0.459,2.492\n0.525,2.492\n0.59,2.492\n0.656,2.492\n0.721,2.492\n0.787,2.492\n0.852,2.492\n0.918,2.492\n0.984,2.492\n1.049,2.492\n1.115,2.492\n1.18,2.492\n1.246,2.492\n1.311,2.492\n1.377,2.492\n1.443,2.492\n1.508,2.492\n1.574,2.492\n1.639,2.492\n1.705,2.492\n1.77,2.492\n1.836,2.492,180,5\n1.902,2.492,270,6\n1.967,2.492,210,11\n2.033,2.492,240,6\n2.098,2.492,180,6\n2.164,2.492\n2.23,2.492,185,10\n2.295,2.492,330,8\n2.361,2.492,300,7\n2.426,2.492,180,7\n2.492,2.492\n2.557,2.492\n2.623,2.492\n2.689,2.492\n2.754,2.492\n2.82,2.492\n2.885,2.492\n2.951,2.492\n3.016,2.492\n3.082,2.492\n3.148,2.492\n3.213,2.492\n3.279,2.492\n3.344,2.492\n3.41,2.492\n3.475,2.492\n3.541,2.492\n3.607,2.492\n3.672,2.492\n3.738,2.492\n3.803,2.492\n3.869,2.492\n3.934,2.492\n4,2.492\n0,2.557\n0.066,2.557\n0.131,2.557\n0.197,2.557\n0.262,2.557\n0.328,2.557\n0.393,2.557\n0.459,2.557\n0.525,2.557\n0.59,2.557\n0.656,2.557\n0.721,2.557\n0.787,2.557\n0.852,2.557\n0.918,2.557\n0.984,2.557\n1.049,2.557\n1.115,2.557\n1.18,2.557\n1.246,2.557\n1.311,2.557\n1.377,2.557\n1.443,2.557\n1.508,2.557\n1.574,2.557\n1.639,2.557\n1.705,2.557\n1.77,2.557\n1.836,2.557\n1.902,2.557\n1.967,2.557\n2.033,2.557\n2.098,2.557\n2.164,2.557\n2.23,2.557\n2.295,2.557\n2.361,2.557,300,6\n2.426,2.557\n2.492,2.557\n2.557,2.557\n2.623,2.557\n2.689,2.557\n2.754,2.557\n2.82,2.557\n2.885,2.557\n2.951,2.557\n3.016,2.557\n3.082,2.557\n3.148,2.557\n3.213,2.557\n3.279,2.557\n3.344,2.557\n3.41,2.557\n3.475,2.557\n3.541,2.557\n3.607,2.557\n3.672,2.557\n3.738,2.557\n3.803,2.557\n3.869,2.557\n3.934,2.557\n4,2.557\n0,2.623\n0.066,2.623\n0.131,2.623\n0.197,2.623\n0.262,2.623\n0.328,2.623\n0.393,2.623\n0.459,2.623\n0.525,2.623\n0.59,2.623\n0.656,2.623\n0.721,2.623\n0.787,2.623\n0.852,2.623\n0.918,2.623\n0.984,2.623\n1.049,2.623\n1.115,2.623\n1.18,2.623\n1.246,2.623\n1.311,2.623\n1.377,2.623\n1.443,2.623\n1.508,2.623\n1.574,2.623\n1.639,2.623\n1.705,2.623\n1.77,2.623\n1.836,2.623\n1.902,2.623\n1.967,2.623\n2.033,2.623\n2.098,2.623\n2.164,2.623\n2.23,2.623\n2.295,2.623\n2.361,2.623\n2.426,2.623\n2.492,2.623\n2.557,2.623\n2.623,2.623\n2.689,2.623\n2.754,2.623\n2.82,2.623\n2.885,2.623\n2.951,2.623\n3.016,2.623\n3.082,2.623\n3.148,2.623\n3.213,2.623\n3.279,2.623\n3.344,2.623\n3.41,2.623\n3.475,2.623\n3.541,2.623\n3.607,2.623\n3.672,2.623\n3.738,2.623\n3.803,2.623\n3.869,2.623\n3.934,2.623\n4,2.623\n0,2.689\n0.066,2.689\n0.131,2.689\n0.197,2.689\n0.262,2.689\n0.328,2.689\n0.393,2.689\n0.459,2.689\n0.525,2.689\n0.59,2.689\n0.656,2.689\n0.721,2.689\n0.787,2.689\n0.852,2.689\n0.918,2.689\n0.984,2.689\n1.049,2.689\n1.115,2.689\n1.18,2.689\n1.246,2.689\n1.311,2.689\n1.377,2.689\n1.443,2.689\n1.508,2.689\n1.574,2.689\n1.639,2.689\n1.705,2.689\n1.77,2.689\n1.836,2.689\n1.902,2.689\n1.967,2.689\n2.033,2.689\n2.098,2.689\n2.164,2.689\n2.23,2.689\n2.295,2.689\n2.361,2.689\n2.426,2.689\n2.492,2.689\n2.557,2.689\n2.623,2.689\n2.689,2.689\n2.754,2.689\n2.82,2.689\n2.885,2.689\n2.951,2.689\n3.016,2.689\n3.082,2.689\n3.148,2.689\n3.213,2.689\n3.279,2.689\n3.344,2.689\n3.41,2.689\n3.475,2.689\n3.541,2.689\n3.607,2.689\n3.672,2.689\n3.738,2.689\n3.803,2.689\n3.869,2.689\n3.934,2.689\n4,2.689\n0,2.754\n0.066,2.754\n0.131,2.754\n0.197,2.754\n0.262,2.754\n0.328,2.754\n0.393,2.754\n0.459,2.754\n0.525,2.754\n0.59,2.754\n0.656,2.754\n0.721,2.754\n0.787,2.754\n0.852,2.754\n0.918,2.754\n0.984,2.754\n1.049,2.754\n1.115,2.754\n1.18,2.754\n1.246,2.754\n1.311,2.754\n1.377,2.754\n1.443,2.754\n1.508,2.754\n1.574,2.754\n1.639,2.754\n1.705,2.754\n1.77,2.754\n1.836,2.754\n1.902,2.754\n1.967,2.754\n2.033,2.754\n2.098,2.754\n2.164,2.754\n2.23,2.754\n2.295,2.754\n2.361,2.754\n2.426,2.754\n2.492,2.754\n2.557,2.754\n2.623,2.754\n2.689,2.754\n2.754,2.754\n2.82,2.754\n2.885,2.754\n2.951,2.754\n3.016,2.754\n3.082,2.754\n3.148,2.754\n3.213,2.754\n3.279,2.754\n3.344,2.754\n3.41,2.754\n3.475,2.754\n3.541,2.754\n3.607,2.754\n3.672,2.754\n3.738,2.754\n3.803,2.754\n3.869,2.754\n3.934,2.754\n4,2.754\n0,2.82\n0.066,2.82\n0.131,2.82\n0.197,2.82\n0.262,2.82\n0.328,2.82\n0.393,2.82\n0.459,2.82\n0.525,2.82\n0.59,2.82\n0.656,2.82\n0.721,2.82\n0.787,2.82\n0.852,2.82\n0.918,2.82\n0.984,2.82\n1.049,2.82\n1.115,2.82\n1.18,2.82\n1.246,2.82\n1.311,2.82\n1.377,2.82\n1.443,2.82\n1.508,2.82\n1.574,2.82\n1.639,2.82\n1.705,2.82\n1.77,2.82\n1.836,2.82\n1.902,2.82\n1.967,2.82\n2.033,2.82\n2.098,2.82\n2.164,2.82\n2.23,2.82\n2.295,2.82\n2.361,2.82\n2.426,2.82\n2.492,2.82\n2.557,2.82\n2.623,2.82\n2.689,2.82\n2.754,2.82\n2.82,2.82\n2.885,2.82\n2.951,2.82\n3.016,2.82\n3.082,2.82\n3.148,2.82\n3.213,2.82\n3.279,2.82\n3.344,2.82\n3.41,2.82\n3.475,2.82\n3.541,2.82\n3.607,2.82\n3.672,2.82\n3.738,2.82\n3.803,2.82\n3.869,2.82\n3.934,2.82\n4,2.82\n0,2.885\n0.066,2.885\n0.131,2.885\n0.197,2.885\n0.262,2.885\n0.328,2.885\n0.393,2.885\n0.459,2.885\n0.525,2.885\n0.59,2.885\n0.656,2.885\n0.721,2.885\n0.787,2.885\n0.852,2.885\n0.918,2.885\n0.984,2.885\n1.049,2.885\n1.115,2.885\n1.18,2.885\n1.246,2.885\n1.311,2.885\n1.377,2.885\n1.443,2.885\n1.508,2.885\n1.574,2.885\n1.639,2.885\n1.705,2.885\n1.77,2.885\n1.836,2.885\n1.902,2.885\n1.967,2.885\n2.033,2.885\n2.098,2.885\n2.164,2.885\n2.23,2.885\n2.295,2.885\n2.361,2.885\n2.426,2.885\n2.492,2.885\n2.557,2.885\n2.623,2.885\n2.689,2.885\n2.754,2.885\n2.82,2.885\n2.885,2.885\n2.951,2.885\n3.016,2.885\n3.082,2.885\n3.148,2.885\n3.213,2.885\n3.279,2.885\n3.344,2.885\n3.41,2.885\n3.475,2.885\n3.541,2.885\n3.607,2.885\n3.672,2.885\n3.738,2.885\n3.803,2.885\n3.869,2.885\n3.934,2.885\n4,2.885\n0,2.951\n0.066,2.951\n0.131,2.951\n0.197,2.951\n0.262,2.951\n0.328,2.951\n0.393,2.951\n0.459,2.951\n0.525,2.951\n0.59,2.951\n0.656,2.951\n0.721,2.951\n0.787,2.951\n0.852,2.951\n0.918,2.951\n0.984,2.951\n1.049,2.951\n1.115,2.951\n1.18,2.951\n1.246,2.951\n1.311,2.951\n1.377,2.951\n1.443,2.951\n1.508,2.951\n1.574,2.951\n1.639,2.951\n1.705,2.951\n1.77,2.951\n1.836,2.951\n1.902,2.951\n1.967,2.951\n2.033,2.951\n2.098,2.951\n2.164,2.951\n2.23,2.951\n2.295,2.951\n2.361,2.951\n2.426,2.951\n2.492,2.951\n2.557,2.951\n2.623,2.951\n2.689,2.951\n2.754,2.951\n2.82,2.951\n2.885,2.951\n2.951,2.951\n3.016,2.951\n3.082,2.951\n3.148,2.951\n3.213,2.951\n3.279,2.951\n3.344,2.951\n3.41,2.951\n3.475,2.951\n3.541,2.951\n3.607,2.951\n3.672,2.951\n3.738,2.951\n3.803,2.951\n3.869,2.951\n3.934,2.951\n4,2.951\n0,3.016\n0.066,3.016\n0.131,3.016\n0.197,3.016\n0.262,3.016\n0.328,3.016\n0.393,3.016\n0.459,3.016\n0.525,3.016\n0.59,3.016\n0.656,3.016\n0.721,3.016\n0.787,3.016\n0.852,3.016\n0.918,3.016\n0.984,3.016\n1.049,3.016\n1.115,3.016\n1.18,3.016\n1.246,3.016\n1.311,3.016\n1.377,3.016\n1.443,3.016\n1.508,3.016\n1.574,3.016\n1.639,3.016\n1.705,3.016\n1.77,3.016\n1.836,3.016\n1.902,3.016\n1.967,3.016\n2.033,3.016\n2.098,3.016\n2.164,3.016\n2.23,3.016\n2.295,3.016\n2.361,3.016\n2.426,3.016\n2.492,3.016\n2.557,3.016\n2.623,3.016\n2.689,3.016\n2.754,3.016\n2.82,3.016\n2.885,3.016\n2.951,3.016\n3.016,3.016\n3.082,3.016\n3.148,3.016\n3.213,3.016\n3.279,3.016\n3.344,3.016\n3.41,3.016\n3.475,3.016\n3.541,3.016\n3.607,3.016\n3.672,3.016\n3.738,3.016\n3.803,3.016\n3.869,3.016\n3.934,3.016\n4,3.016\n0,3.082\n0.066,3.082\n0.131,3.082\n0.197,3.082\n0.262,3.082\n0.328,3.082\n0.393,3.082\n0.459,3.082\n0.525,3.082\n0.59,3.082\n0.656,3.082\n0.721,3.082\n0.787,3.082\n0.852,3.082\n0.918,3.082\n0.984,3.082\n1.049,3.082\n1.115,3.082\n1.18,3.082\n1.246,3.082\n1.311,3.082\n1.377,3.082\n1.443,3.082\n1.508,3.082\n1.574,3.082\n1.639,3.082\n1.705,3.082\n1.77,3.082\n1.836,3.082\n1.902,3.082\n1.967,3.082\n2.033,3.082\n2.098,3.082\n2.164,3.082\n2.23,3.082\n2.295,3.082\n2.361,3.082\n2.426,3.082\n2.492,3.082\n2.557,3.082\n2.623,3.082\n2.689,3.082\n2.754,3.082\n2.82,3.082\n2.885,3.082\n2.951,3.082\n3.016,3.082\n3.082,3.082\n3.148,3.082\n3.213,3.082\n3.279,3.082\n3.344,3.082\n3.41,3.082\n3.475,3.082\n3.541,3.082\n3.607,3.082\n3.672,3.082\n3.738,3.082\n3.803,3.082\n3.869,3.082\n3.934,3.082\n4,3.082\n0,3.148\n0.066,3.148\n0.131,3.148\n0.197,3.148\n0.262,3.148\n0.328,3.148\n0.393,3.148\n0.459,3.148\n0.525,3.148\n0.59,3.148\n0.656,3.148\n0.721,3.148\n0.787,3.148\n0.852,3.148\n0.918,3.148\n0.984,3.148\n1.049,3.148\n1.115,3.148\n1.18,3.148\n1.246,3.148\n1.311,3.148\n1.377,3.148\n1.443,3.148\n1.508,3.148\n1.574,3.148\n1.639,3.148\n1.705,3.148\n1.77,3.148\n1.836,3.148\n1.902,3.148\n1.967,3.148\n2.033,3.148\n2.098,3.148\n2.164,3.148\n2.23,3.148\n2.295,3.148\n2.361,3.148\n2.426,3.148\n2.492,3.148\n2.557,3.148\n2.623,3.148\n2.689,3.148\n2.754,3.148\n2.82,3.148\n2.885,3.148\n2.951,3.148\n3.016,3.148\n3.082,3.148\n3.148,3.148\n3.213,3.148\n3.279,3.148\n3.344,3.148\n3.41,3.148\n3.475,3.148\n3.541,3.148\n3.607,3.148\n3.672,3.148\n3.738,3.148\n3.803,3.148\n3.869,3.148\n3.934,3.148\n4,3.148\n0,3.213\n0.066,3.213\n0.131,3.213\n0.197,3.213\n0.262,3.213\n0.328,3.213\n0.393,3.213\n0.459,3.213\n0.525,3.213\n0.59,3.213\n0.656,3.213\n0.721,3.213\n0.787,3.213\n0.852,3.213\n0.918,3.213\n0.984,3.213\n1.049,3.213\n1.115,3.213\n1.18,3.213\n1.246,3.213\n1.311,3.213\n1.377,3.213\n1.443,3.213\n1.508,3.213\n1.574,3.213\n1.639,3.213\n1.705,3.213\n1.77,3.213\n1.836,3.213\n1.902,3.213\n1.967,3.213\n2.033,3.213\n2.098,3.213\n2.164,3.213\n2.23,3.213\n2.295,3.213\n2.361,3.213\n2.426,3.213\n2.492,3.213\n2.557,3.213\n2.623,3.213\n2.689,3.213\n2.754,3.213\n2.82,3.213\n2.885,3.213\n2.951,3.213\n3.016,3.213\n3.082,3.213\n3.148,3.213\n3.213,3.213\n3.279,3.213\n3.344,3.213\n3.41,3.213\n3.475,3.213\n3.541,3.213\n3.607,3.213\n3.672,3.213\n3.738,3.213\n3.803,3.213\n3.869,3.213\n3.934,3.213\n4,3.213\n0,3.279\n0.066,3.279\n0.131,3.279\n0.197,3.279\n0.262,3.279\n0.328,3.279\n0.393,3.279\n0.459,3.279\n0.525,3.279\n0.59,3.279\n0.656,3.279\n0.721,3.279\n0.787,3.279\n0.852,3.279\n0.918,3.279\n0.984,3.279\n1.049,3.279\n1.115,3.279\n1.18,3.279\n1.246,3.279\n1.311,3.279\n1.377,3.279\n1.443,3.279\n1.508,3.279\n1.574,3.279\n1.639,3.279\n1.705,3.279\n1.77,3.279\n1.836,3.279\n1.902,3.279\n1.967,3.279\n2.033,3.279\n2.098,3.279\n2.164,3.279\n2.23,3.279\n2.295,3.279\n2.361,3.279\n2.426,3.279\n2.492,3.279\n2.557,3.279\n2.623,3.279\n2.689,3.279\n2.754,3.279\n2.82,3.279\n2.885,3.279\n2.951,3.279\n3.016,3.279\n3.082,3.279\n3.148,3.279\n3.213,3.279\n3.279,3.279\n3.344,3.279\n3.41,3.279\n3.475,3.279\n3.541,3.279\n3.607,3.279\n3.672,3.279\n3.738,3.279\n3.803,3.279\n3.869,3.279\n3.934,3.279\n4,3.279\n0,3.344\n0.066,3.344\n0.131,3.344\n0.197,3.344\n0.262,3.344\n0.328,3.344\n0.393,3.344\n0.459,3.344\n0.525,3.344\n0.59,3.344\n0.656,3.344\n0.721,3.344\n0.787,3.344\n0.852,3.344\n0.918,3.344\n0.984,3.344\n1.049,3.344\n1.115,3.344\n1.18,3.344\n1.246,3.344\n1.311,3.344\n1.377,3.344\n1.443,3.344\n1.508,3.344\n1.574,3.344\n1.639,3.344\n1.705,3.344\n1.77,3.344\n1.836,3.344\n1.902,3.344\n1.967,3.344\n2.033,3.344\n2.098,3.344\n2.164,3.344\n2.23,3.344\n2.295,3.344\n2.361,3.344\n2.426,3.344\n2.492,3.344\n2.557,3.344\n2.623,3.344\n2.689,3.344\n2.754,3.344\n2.82,3.344\n2.885,3.344\n2.951,3.344\n3.016,3.344\n3.082,3.344\n3.148,3.344\n3.213,3.344\n3.279,3.344\n3.344,3.344\n3.41,3.344\n3.475,3.344\n3.541,3.344\n3.607,3.344\n3.672,3.344\n3.738,3.344\n3.803,3.344\n3.869,3.344\n3.934,3.344\n4,3.344\n0,3.41\n0.066,3.41\n0.131,3.41\n0.197,3.41\n0.262,3.41\n0.328,3.41\n0.393,3.41\n0.459,3.41\n0.525,3.41\n0.59,3.41\n0.656,3.41\n0.721,3.41\n0.787,3.41\n0.852,3.41\n0.918,3.41\n0.984,3.41\n1.049,3.41\n1.115,3.41\n1.18,3.41\n1.246,3.41\n1.311,3.41\n1.377,3.41\n1.443,3.41\n1.508,3.41\n1.574,3.41\n1.639,3.41\n1.705,3.41\n1.77,3.41\n1.836,3.41\n1.902,3.41\n1.967,3.41\n2.033,3.41\n2.098,3.41\n2.164,3.41\n2.23,3.41\n2.295,3.41\n2.361,3.41\n2.426,3.41\n2.492,3.41\n2.557,3.41\n2.623,3.41\n2.689,3.41\n2.754,3.41\n2.82,3.41\n2.885,3.41\n2.951,3.41\n3.016,3.41\n3.082,3.41\n3.148,3.41\n3.213,3.41\n3.279,3.41\n3.344,3.41\n3.41,3.41\n3.475,3.41\n3.541,3.41\n3.607,3.41\n3.672,3.41\n3.738,3.41\n3.803,3.41\n3.869,3.41\n3.934,3.41\n4,3.41\n0,3.475\n0.066,3.475\n0.131,3.475\n0.197,3.475\n0.262,3.475\n0.328,3.475\n0.393,3.475\n0.459,3.475\n0.525,3.475\n0.59,3.475\n0.656,3.475\n0.721,3.475\n0.787,3.475\n0.852,3.475\n0.918,3.475\n0.984,3.475\n1.049,3.475\n1.115,3.475\n1.18,3.475\n1.246,3.475\n1.311,3.475\n1.377,3.475\n1.443,3.475\n1.508,3.475\n1.574,3.475\n1.639,3.475\n1.705,3.475\n1.77,3.475\n1.836,3.475\n1.902,3.475\n1.967,3.475\n2.033,3.475\n2.098,3.475\n2.164,3.475\n2.23,3.475\n2.295,3.475\n2.361,3.475\n2.426,3.475\n2.492,3.475\n2.557,3.475\n2.623,3.475\n2.689,3.475\n2.754,3.475\n2.82,3.475\n2.885,3.475\n2.951,3.475\n3.016,3.475\n3.082,3.475\n3.148,3.475\n3.213,3.475\n3.279,3.475\n3.344,3.475\n3.41,3.475\n3.475,3.475\n3.541,3.475\n3.607,3.475\n3.672,3.475\n3.738,3.475\n3.803,3.475\n3.869,3.475\n3.934,3.475\n4,3.475\n0,3.541\n0.066,3.541\n0.131,3.541\n0.197,3.541\n0.262,3.541\n0.328,3.541\n0.393,3.541\n0.459,3.541\n0.525,3.541\n0.59,3.541\n0.656,3.541\n0.721,3.541\n0.787,3.541\n0.852,3.541\n0.918,3.541\n0.984,3.541\n1.049,3.541\n1.115,3.541\n1.18,3.541\n1.246,3.541\n1.311,3.541\n1.377,3.541\n1.443,3.541\n1.508,3.541\n1.574,3.541\n1.639,3.541\n1.705,3.541\n1.77,3.541\n1.836,3.541\n1.902,3.541\n1.967,3.541\n2.033,3.541\n2.098,3.541\n2.164,3.541\n2.23,3.541\n2.295,3.541\n2.361,3.541\n2.426,3.541\n2.492,3.541\n2.557,3.541\n2.623,3.541\n2.689,3.541\n2.754,3.541\n2.82,3.541\n2.885,3.541\n2.951,3.541\n3.016,3.541\n3.082,3.541\n3.148,3.541\n3.213,3.541\n3.279,3.541\n3.344,3.541\n3.41,3.541\n3.475,3.541\n3.541,3.541\n3.607,3.541\n3.672,3.541\n3.738,3.541\n3.803,3.541\n3.869,3.541\n3.934,3.541\n4,3.541\n0,3.607\n0.066,3.607\n0.131,3.607\n0.197,3.607\n0.262,3.607\n0.328,3.607\n0.393,3.607\n0.459,3.607\n0.525,3.607\n0.59,3.607\n0.656,3.607\n0.721,3.607\n0.787,3.607\n0.852,3.607\n0.918,3.607\n0.984,3.607\n1.049,3.607\n1.115,3.607\n1.18,3.607\n1.246,3.607\n1.311,3.607\n1.377,3.607\n1.443,3.607\n1.508,3.607\n1.574,3.607\n1.639,3.607\n1.705,3.607\n1.77,3.607\n1.836,3.607\n1.902,3.607\n1.967,3.607\n2.033,3.607\n2.098,3.607\n2.164,3.607\n2.23,3.607\n2.295,3.607\n2.361,3.607\n2.426,3.607\n2.492,3.607\n2.557,3.607\n2.623,3.607\n2.689,3.607\n2.754,3.607\n2.82,3.607\n2.885,3.607\n2.951,3.607\n3.016,3.607\n3.082,3.607\n3.148,3.607\n3.213,3.607\n3.279,3.607\n3.344,3.607\n3.41,3.607\n3.475,3.607\n3.541,3.607\n3.607,3.607\n3.672,3.607\n3.738,3.607\n3.803,3.607\n3.869,3.607\n3.934,3.607\n4,3.607\n0,3.672\n0.066,3.672\n0.131,3.672\n0.197,3.672\n0.262,3.672\n0.328,3.672\n0.393,3.672\n0.459,3.672\n0.525,3.672\n0.59,3.672\n0.656,3.672\n0.721,3.672\n0.787,3.672\n0.852,3.672\n0.918,3.672\n0.984,3.672\n1.049,3.672\n1.115,3.672\n1.18,3.672\n1.246,3.672\n1.311,3.672\n1.377,3.672\n1.443,3.672\n1.508,3.672\n1.574,3.672\n1.639,3.672\n1.705,3.672\n1.77,3.672\n1.836,3.672\n1.902,3.672\n1.967,3.672\n2.033,3.672\n2.098,3.672\n2.164,3.672\n2.23,3.672\n2.295,3.672\n2.361,3.672\n2.426,3.672\n2.492,3.672\n2.557,3.672\n2.623,3.672\n2.689,3.672\n2.754,3.672\n2.82,3.672\n2.885,3.672\n2.951,3.672\n3.016,3.672\n3.082,3.672\n3.148,3.672\n3.213,3.672\n3.279,3.672\n3.344,3.672\n3.41,3.672\n3.475,3.672\n3.541,3.672\n3.607,3.672\n3.672,3.672\n3.738,3.672\n3.803,3.672\n3.869,3.672\n3.934,3.672\n4,3.672\n0,3.738\n0.066,3.738\n0.131,3.738\n0.197,3.738\n0.262,3.738\n0.328,3.738\n0.393,3.738\n0.459,3.738\n0.525,3.738\n0.59,3.738\n0.656,3.738\n0.721,3.738\n0.787,3.738\n0.852,3.738\n0.918,3.738\n0.984,3.738\n1.049,3.738\n1.115,3.738\n1.18,3.738\n1.246,3.738\n1.311,3.738\n1.377,3.738\n1.443,3.738\n1.508,3.738\n1.574,3.738\n1.639,3.738\n1.705,3.738\n1.77,3.738\n1.836,3.738\n1.902,3.738\n1.967,3.738\n2.033,3.738\n2.098,3.738\n2.164,3.738\n2.23,3.738\n2.295,3.738\n2.361,3.738\n2.426,3.738\n2.492,3.738\n2.557,3.738\n2.623,3.738\n2.689,3.738\n2.754,3.738\n2.82,3.738\n2.885,3.738\n2.951,3.738\n3.016,3.738\n3.082,3.738\n3.148,3.738\n3.213,3.738\n3.279,3.738\n3.344,3.738\n3.41,3.738\n3.475,3.738\n3.541,3.738\n3.607,3.738\n3.672,3.738\n3.738,3.738\n3.803,3.738\n3.869,3.738\n3.934,3.738\n4,3.738\n0,3.803\n0.066,3.803\n0.131,3.803\n0.197,3.803\n0.262,3.803\n0.328,3.803\n0.393,3.803\n0.459,3.803\n0.525,3.803\n0.59,3.803\n0.656,3.803\n0.721,3.803\n0.787,3.803\n0.852,3.803\n0.918,3.803\n0.984,3.803\n1.049,3.803\n1.115,3.803\n1.18,3.803\n1.246,3.803\n1.311,3.803\n1.377,3.803\n1.443,3.803\n1.508,3.803\n1.574,3.803\n1.639,3.803\n1.705,3.803\n1.77,3.803\n1.836,3.803\n1.902,3.803\n1.967,3.803\n2.033,3.803\n2.098,3.803\n2.164,3.803\n2.23,3.803\n2.295,3.803\n2.361,3.803\n2.426,3.803\n2.492,3.803\n2.557,3.803\n2.623,3.803\n2.689,3.803\n2.754,3.803\n2.82,3.803\n2.885,3.803\n2.951,3.803\n3.016,3.803\n3.082,3.803\n3.148,3.803\n3.213,3.803\n3.279,3.803\n3.344,3.803\n3.41,3.803\n3.475,3.803\n3.541,3.803\n3.607,3.803\n3.672,3.803\n3.738,3.803\n3.803,3.803\n3.869,3.803\n3.934,3.803\n4,3.803\n0,3.869\n0.066,3.869\n0.131,3.869\n0.197,3.869\n0.262,3.869\n0.328,3.869\n0.393,3.869\n0.459,3.869\n0.525,3.869\n0.59,3.869\n0.656,3.869\n0.721,3.869\n0.787,3.869\n0.852,3.869\n0.918,3.869\n0.984,3.869\n1.049,3.869\n1.115,3.869\n1.18,3.869\n1.246,3.869\n1.311,3.869\n1.377,3.869\n1.443,3.869\n1.508,3.869\n1.574,3.869\n1.639,3.869\n1.705,3.869\n1.77,3.869\n1.836,3.869\n1.902,3.869\n1.967,3.869\n2.033,3.869\n2.098,3.869\n2.164,3.869\n2.23,3.869\n2.295,3.869\n2.361,3.869\n2.426,3.869\n2.492,3.869\n2.557,3.869\n2.623,3.869\n2.689,3.869\n2.754,3.869\n2.82,3.869\n2.885,3.869\n2.951,3.869\n3.016,3.869\n3.082,3.869\n3.148,3.869\n3.213,3.869\n3.279,3.869\n3.344,3.869\n3.41,3.869\n3.475,3.869\n3.541,3.869\n3.607,3.869\n3.672,3.869\n3.738,3.869\n3.803,3.869\n3.869,3.869\n3.934,3.869\n4,3.869\n0,3.934\n0.066,3.934\n0.131,3.934\n0.197,3.934\n0.262,3.934\n0.328,3.934\n0.393,3.934\n0.459,3.934\n0.525,3.934\n0.59,3.934\n0.656,3.934\n0.721,3.934\n0.787,3.934\n0.852,3.934\n0.918,3.934\n0.984,3.934\n1.049,3.934\n1.115,3.934\n1.18,3.934\n1.246,3.934\n1.311,3.934\n1.377,3.934\n1.443,3.934\n1.508,3.934\n1.574,3.934\n1.639,3.934\n1.705,3.934\n1.77,3.934\n1.836,3.934\n1.902,3.934\n1.967,3.934\n2.033,3.934\n2.098,3.934\n2.164,3.934\n2.23,3.934\n2.295,3.934\n2.361,3.934\n2.426,3.934\n2.492,3.934\n2.557,3.934\n2.623,3.934\n2.689,3.934\n2.754,3.934\n2.82,3.934\n2.885,3.934\n2.951,3.934\n3.016,3.934\n3.082,3.934\n3.148,3.934\n3.213,3.934\n3.279,3.934\n3.344,3.934\n3.41,3.934\n3.475,3.934\n3.541,3.934\n3.607,3.934\n3.672,3.934\n3.738,3.934\n3.803,3.934\n3.869,3.934\n3.934,3.934\n4,3.934\n0,4\n0.066,4\n0.131,4\n0.197,4\n0.262,4\n0.328,4\n0.393,4\n0.459,4\n0.525,4\n0.59,4\n0.656,4\n0.721,4\n0.787,4\n0.852,4\n0.918,4\n0.984,4\n1.049,4\n1.115,4\n1.18,4\n1.246,4\n1.311,4\n1.377,4\n1.443,4\n1.508,4\n1.574,4\n1.639,4\n1.705,4\n1.77,4\n1.836,4\n1.902,4\n1.967,4\n2.033,4\n2.098,4\n2.164,4\n2.23,4\n2.295,4\n2.361,4\n2.426,4\n2.492,4\n2.557,4\n2.623,4\n2.689,4\n2.754,4\n2.82,4\n2.885,4\n2.951,4\n3.016,4\n3.082,4\n3.148,4\n3.213,4\n3.279,4\n3.344,4\n3.41,4\n3.475,4\n3.541,4\n3.607,4\n3.672,4\n3.738,4\n3.803,4\n3.869,4\n3.934,4\n4,4", "format": {"type": "csv", "parse": {"x": "number", "y": "number", "a": "number", "l": "number"}}},
"layer": [
 {"transform": [{"filter": "!isValid(datum.l)"}],
  "mark": {"type": "point", "shape": "M0,0L1,0M0.67,0.11L1,0L0.67,-0.11", "filled": false, "fill": null, "stroke": "#0072BD", "strokeWidth": 0.8, "opacity": 1, "angle": 208.6, "size": 154},
  "encoding": {
   "x": {"field": "x", "type": "quantitative", "scale": {"domain": [-0.5, 4.5], "nice": false, "zero": false}, "axis": {"orient": "bottom", "values": [-0.5, 0, 0.5, 1, 1.5, 2, 2.5, 3, 3.5, 4, 4.5], "labelExpr": "datum.value < 0 ? '-' + format(-datum.value, '~g') : format(datum.value, '~g')"}},
   "y": {"field": "y", "type": "quantitative", "scale": {"domain": [-0.5, 4.5], "nice": false, "zero": false}, "axis": {"orient": "left", "values": [-0.5, 0, 0.5, 1, 1.5, 2, 2.5, 3, 3.5, 4, 4.5], "labelExpr": "datum.value < 0 ? '-' + format(-datum.value, '~g') : format(datum.value, '~g')"}}
  }},
 {"transform": [{"filter": "isValid(datum.l)"}],
  "mark": {"type": "point", "shape": "M0,0L1,0M0.67,0.11L1,0L0.67,-0.11", "filled": false, "fill": null, "stroke": "#0072BD", "strokeWidth": 0.8, "opacity": 1},
  "encoding": {
   "x": {"field": "x", "type": "quantitative", "scale": {"domain": [-0.5, 4.5], "nice": false, "zero": false}, "axis": {"orient": "top", "labels": false, "values": [-0.5, 0, 0.5, 1, 1.5, 2, 2.5, 3, 3.5, 4, 4.5]}},
   "y": {"field": "y", "type": "quantitative", "scale": {"domain": [-0.5, 4.5], "nice": false, "zero": false}, "axis": {"orient": "right", "labels": false, "values": [-0.5, 0, 0.5, 1, 1.5, 2, 2.5, 3, 3.5, 4, 4.5]}},
   "angle": {"field": "a", "type": "quantitative", "scale": null},
   "size": {"field": "l", "type": "quantitative", "scale": {"type": "pow", "exponent": 2, "domain": [0, 20], "range": [0, 3200]}, "legend": null}
  }}
],
"resolve": {"axis": {"x": "independent", "y": "independent"}}
}
